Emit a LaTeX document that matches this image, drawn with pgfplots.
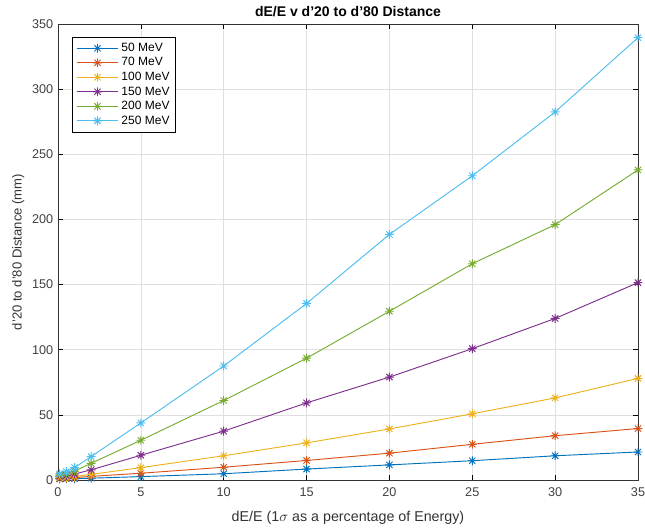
\documentclass[border=0pt]{standalone}
\usepackage{pgfplots}
\pgfplotsset{compat=1.18}
\usepackage{fontspec}
\setmainfont{Liberation Sans}
\definecolor{m1}{rgb}{0,0.447,0.741}
\definecolor{m2}{rgb}{0.85,0.325,0.098}
\definecolor{m3}{rgb}{0.929,0.694,0.125}
\definecolor{m4}{rgb}{0.494,0.184,0.556}
\definecolor{m5}{rgb}{0.466,0.674,0.188}
\definecolor{m6}{rgb}{0.301,0.745,0.933}
% matlab style 8-spoke asterisk
\pgfdeclareplotmark{mstar}{%
  \pgfpathmoveto{\pgfqpoint{-\pgfplotmarksize}{0pt}}\pgfpathlineto{\pgfqpoint{\pgfplotmarksize}{0pt}}%
  \pgfpathmoveto{\pgfqpoint{0pt}{-\pgfplotmarksize}}\pgfpathlineto{\pgfqpoint{0pt}{\pgfplotmarksize}}%
  \pgfpathmoveto{\pgfqpoint{-0.7071\pgfplotmarksize}{-0.7071\pgfplotmarksize}}\pgfpathlineto{\pgfqpoint{0.7071\pgfplotmarksize}{0.7071\pgfplotmarksize}}%
  \pgfpathmoveto{\pgfqpoint{-0.7071\pgfplotmarksize}{0.7071\pgfplotmarksize}}\pgfpathlineto{\pgfqpoint{0.7071\pgfplotmarksize}{-0.7071\pgfplotmarksize}}%
  \pgfusepathqstroke}
\begin{document}
\begin{tikzpicture}
\begin{axis}[
    scale only axis,
    width=435pt, height=342pt,
    xmin=0, xmax=35, ymin=0, ymax=350,
    xtick={0,5,...,35}, ytick={0,50,...,350},
    grid=major,
    grid style={gray!25, line width=0.4pt},
    tick align=inside,
    tick style={black, line width=0.5pt},
    major tick length=3.5pt,
    axis line style={black!80, line width=0.5pt},
    /pgf/number format/assume math mode=true,
    tick label style={font=\fontsize{9.5}{11}\selectfont, black!75},
    xticklabel style={yshift=-2pt},
    title={\bfseries dE/E v d'20 to d'80 Distance},
    title style={font=\fontsize{10.5}{12}\selectfont, yshift=-4pt},
    xlabel={dE/E (1$\sigma$ as a percentage of Energy)},
    ylabel={d'20 to d'80 Distance (mm)},
    label style={black!80},
    xlabel style={font=\fontsize{10.7}{12}\selectfont, yshift=-4pt},
    ylabel style={font=\fontsize{9.8}{12}\selectfont, yshift=-1pt},
    legend style={at={(0.025,0.972)}, anchor=north west, font=\fontsize{9}{10.5}\selectfont,
        draw=black, line width=0.5pt, row sep=-0.9pt, inner sep=2.5pt},
    legend cell align=left,
    legend image code/.code={
        \draw[#1] (0cm,0cm) -- (1.1cm,0cm);
        \draw[#1, mark repeat=2, mark phase=2] plot coordinates {(0cm,0cm) (0.55cm,0cm) (1.1cm,0cm)};
    },
    every axis plot/.append style={line width=0.7pt, mark=mstar, mark size=3.3pt},
]
\addplot[color=m1] coordinates {
    (0.1,0.8) (0.5,0.9) (1,1.0) (2,1.4) (5,2.6) (10,4.8) (15,8.4) (20,11.6) (25,14.8) (30,18.6) (35,21.5)
};
\addlegendentry{50 MeV}
\addplot[color=m2] coordinates {
    (0.1,1.2) (0.5,1.4) (1,1.8) (2,2.8) (5,5.2) (10,9.8) (15,15.0) (20,20.6) (25,27.4) (30,34.0) (35,39.5)
};
\addlegendentry{70 MeV}
\addplot[color=m3] coordinates {
    (0.1,1.8) (0.5,2.2) (1,2.8) (2,4.3) (5,9.5) (10,18.6) (15,28.5) (20,39.2) (25,50.8) (30,63.0) (35,78.0)
};
\addlegendentry{100 MeV}
\addplot[color=m4] coordinates {
    (0.1,2.8) (0.5,3.4) (1,4.6) (2,7.8) (5,19.0) (10,37.5) (15,59.2) (20,79.0) (25,100.8) (30,124.0) (35,151.5)
};
\addlegendentry{150 MeV}
\addplot[color=m5] coordinates {
    (0.1,3.8) (0.5,4.8) (1,6.8) (2,12.8) (5,30.5) (10,61.0) (15,93.5) (20,129.5) (25,166.0) (30,196.0) (35,238.0)
};
\addlegendentry{200 MeV}
\addplot[color=m6] coordinates {
    (0.1,4.8) (0.5,6.5) (1,9.5) (2,18.0) (5,43.8) (10,87.5) (15,135.5) (20,188.5) (25,233.5) (30,282.5) (35,339.5)
};
\addlegendentry{250 MeV}
\end{axis}
% the reference is cropped tight at the right edge
\pgfresetboundingbox
\path[use as bounding box] ([shift={(-43.5pt,-36.75pt)}]current axis.south west)
    rectangle ([shift={(5.25pt,18pt)}]current axis.north east);
\end{tikzpicture}
\end{document}
